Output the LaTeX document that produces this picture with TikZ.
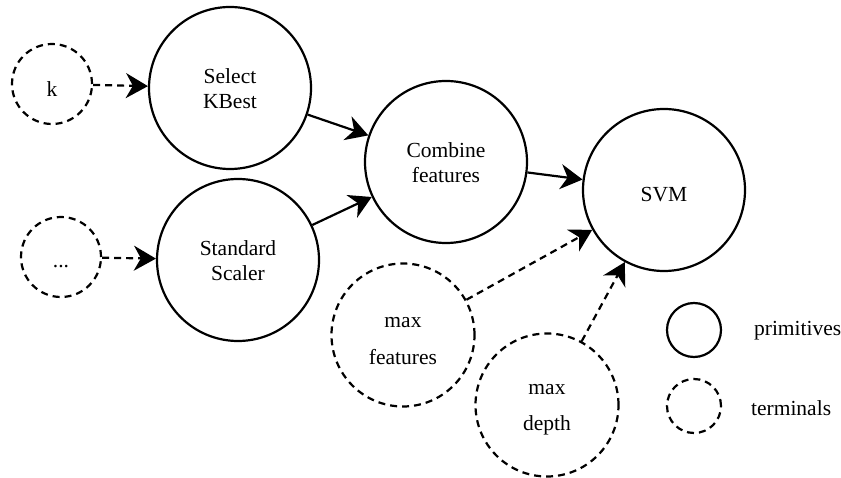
\documentclass[tikz,border=0pt]{standalone}
\usepackage{fontspec}
\setmainfont{Liberation Serif}
\newfontfamily\diagfont{Liberation Serif}
\usetikzlibrary{arrows.meta}
\begin{document}
\begin{tikzpicture}[x=1pt,y=-1pt,line width=2.2pt,
  every node/.style={font=\diagfont\fontsize{21.5}{25}\selectfont},
  prim/.style={circle,draw,minimum size=162pt,inner sep=0pt},
  term/.style={circle,draw,dash pattern=on 7pt off 5pt,inner sep=0pt},
  lbl/.style={align=center,inner sep=0pt},
  link/.style={-{Stealth[length=22pt,width=25pt,inset=7pt]}},
  dlink/.style={link,dash pattern=on 7pt off 5pt}]
\useasboundingbox (0,0) rectangle (841,478);

\node[term,minimum size=80pt,label={[lbl,yshift=-5pt]center:k}] (k) at (52,84) {};
\node[term,minimum size=80pt,label={[lbl,yshift=-10pt]center:...}] (dots) at (61,257) {};
\node[prim,label={[lbl,yshift=-1pt]center:Select\\KBest}] (skb) at (230,88) {};
\node[prim,label={[lbl,yshift=-1pt]center:Standard\\Scaler}] (ss) at (238,260) {};
\node[prim,label={[lbl,yshift=-1pt]center:Combine\\features}] (comb) at (446,162) {};
\node[prim,label={[lbl,yshift=-5pt]center:SVM}] (svm) at (664,190) {};
\node[term,minimum size=143pt,label={[lbl,yshift=-6pt]center:max\\[12pt]features}] (mf) at (403,335) {};
\node[term,minimum size=143pt,label={[lbl,yshift=-5pt]center:max\\[11pt]depth}] (md) at (547,405) {};

\node[prim,minimum size=54pt] (legp) at (694,330) {};
\node[term,minimum size=54pt] (legt) at (694,406) {};
\node[anchor=west,inner sep=0pt] (legptxt) at (753,331) {primitives};
\node[anchor=west,inner sep=0pt] (legttxt) at (750,408) {terminals};

\draw[dlink] (k) -- (skb);
\draw[dlink] (dots) -- (ss);
\draw[link] (skb) -- (comb);
\draw[link] (ss) -- (comb);
\draw[link] (comb) -- (svm);
\draw[dlink] (mf) -- (svm);
\draw[dlink] (md) -- (svm);
\end{tikzpicture}
\end{document}
